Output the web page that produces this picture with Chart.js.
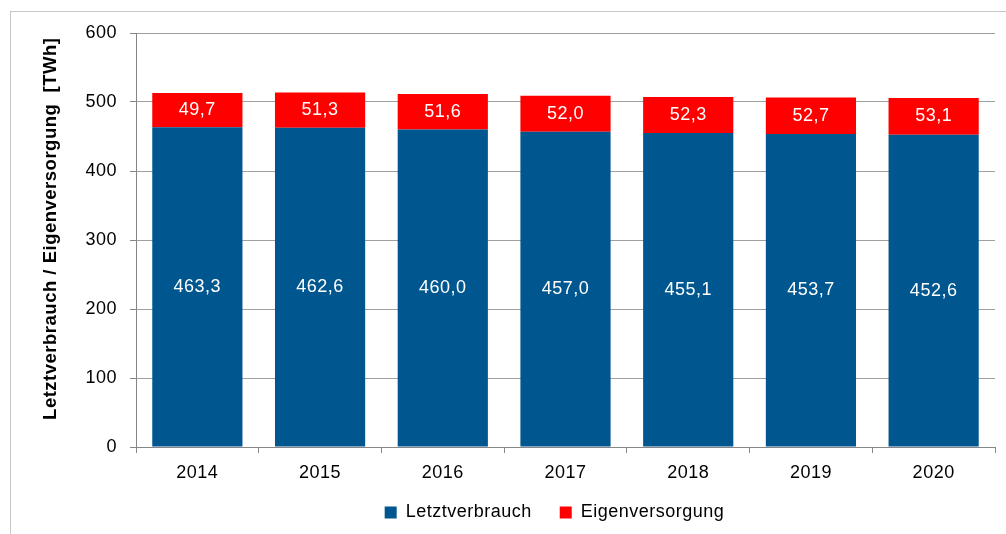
<!DOCTYPE html>
<html>
<head>
<meta charset="utf-8">
<script src="https://cdn.jsdelivr.net/npm/chart.js@4/dist/chart.umd.min.js"></script>
<style>
  html, body { margin: 0; padding: 0; background: #fff; }
  canvas { display: block; }
</style>
</head>
<body>
<canvas id="myChart" width="1006" height="534"></canvas>
<script>
const years = ['2014', '2015', '2016', '2017', '2018', '2019', '2020']
const letztverbrauch = [463.3, 462.6, 460.0, 457.0, 455.1, 453.7, 452.6]
const eigenversorgung = [49.7, 51.3, 51.6, 52.0, 52.3, 52.7, 53.1]
const yTicks = [0, 100, 200, 300, 400, 500, 600]

const font = 'Liberation Sans, Arial, sans-serif'
const colors = {
  blue: '#00578f',
  red: '#ff0000',
  grid: '#a0a0a0',
  axis: '#868686'
}

const fmt = v => v.toFixed(1).replace('.', ',')

// the original text is set a bit wider than plain Arial
const spacingPlugin = {
  id: 'spacing',
  beforeUpdate(chart) { chart.ctx.letterSpacing = '0.5px' },
  beforeDraw(chart) { chart.ctx.letterSpacing = '0.5px' }
}

// light frame around the whole picture
const framePlugin = {
  id: 'frame',
  beforeDraw(chart) {
    const ctx = chart.ctx
    ctx.save()
    ctx.strokeStyle = '#c8c8c8'
    ctx.lineWidth = 1
    ctx.strokeRect(10.5, 11.5, 1200, 800)
    ctx.restore()
  }
}

// move the legend to where it sits in the original
const legendPlace = {
  id: 'legendPlace',
  afterLayout(chart) {
    const lg = chart.legend
    lg.left += 37
    lg.right += 37
    const dy = 475.5 - lg.top
    lg.top += dy
    lg.bottom += dy
  }
}

// white values in the middle of every segment
const valuePlugin = {
  id: 'values',
  afterDatasetsDraw(chart) {
    const ctx = chart.ctx
    ctx.save()
    ctx.fillStyle = '#ffffff'
    ctx.font = '18px ' + font
    ctx.textAlign = 'center'
    ctx.textBaseline = 'middle'
    chart.data.datasets.forEach((ds, i) => {
      const meta = chart.getDatasetMeta(i)
      meta.data.forEach((bar, j) => {
        const p = bar.getProps(['x', 'y', 'base'], true)
        ctx.fillText(fmt(ds.data[j]), p.x, (p.y + p.base) / 2)
      })
    })
    ctx.restore()
  }
}

const ctx = document.getElementById('myChart').getContext('2d')

new Chart(ctx, {
  type: 'bar',
  data: {
    labels: years,
    datasets: [
      {
        label: 'Letztverbrauch',
        data: letztverbrauch,
        backgroundColor: colors.blue,
        barPercentage: 0.735,
        categoryPercentage: 1
      },
      {
        label: 'Eigenversorgung',
        data: eigenversorgung,
        backgroundColor: colors.red,
        barPercentage: 0.735,
        categoryPercentage: 1
      }
    ]
  },
  options: {
    responsive: false,
    animation: false,
    layout: {
      padding: { left: 40, top: 33, right: 11, bottom: 0 }
    },
    plugins: {
      tooltip: { enabled: false },
      legend: {
        position: 'bottom',
        maxHeight: 49,
        labels: {
          boxWidth: 12,
          boxHeight: 12,
          padding: 28,
          color: '#000',
          font: { family: font, size: 18 }
        }
      }
    },
    scales: {
      x: {
        stacked: true,
        afterFit(scale) {
          scale.height = 38
        },
        grid: {
          drawOnChartArea: false,
          tickLength: 6,
          color: colors.axis
        },
        border: { color: colors.axis, width: 1 },
        ticks: {
          padding: 9,
          color: '#000',
          font: { family: font, size: 18 }
        }
      },
      y: {
        stacked: true,
        min: 0,
        max: 600,
        afterBuildTicks(scale) {
          scale.ticks = yTicks.map(v => ({ value: v }))
        },
        afterFit(scale) {
          scale.width = 96
        },
        grid: {
          color: colors.grid,
          tickColor: colors.axis,
          tickLength: 6
        },
        border: { color: colors.axis, width: 1 },
        ticks: {
          padding: 13,
          color: '#000',
          font: { family: font, size: 18 }
        },
        title: {
          display: true,
          // leading spaces push the title a little upward, as in the original
          text: '    Letztverbrauch / Eigenversorgung  [TWh]',
          color: '#000',
          padding: 0,
          font: { family: font, size: 18.5, weight: 'bold' }
        }
      }
    }
  },
  plugins: [spacingPlugin, framePlugin, legendPlace, valuePlugin]
})
</script>
</body>
</html>
